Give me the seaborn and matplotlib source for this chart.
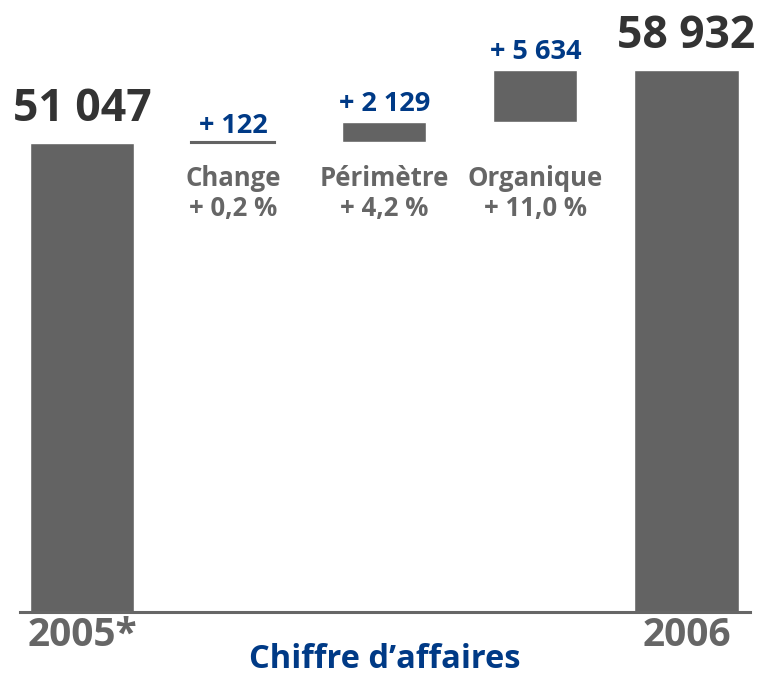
import pandas as pd
import matplotlib
matplotlib.use("Agg")
import matplotlib.pyplot as plt
import seaborn as sns

# donnees (millions d'euros)
etapes = ["2005*", "Change", "Périmètre", "Organique", "2006"]
ca_2005 = 51047
variations = [122, 2129, 5634]
ca_2006 = 58932
libelles_var = ["+ 122", "+ 2 129", "+ 5 634"]
libelles_pct = ["Change\n+ 0,2 %", "Périmètre\n+ 4,2 %", "Organique\n+ 11,0 %"]
libelles_tot = ["51 047", "58 932"]

GRIS_BARRE = "#636363"
GRIS_TEXTE = "#666666"
NOIR = "#333333"
BLEU = "#003a86"

# bases du waterfall
bases = [0]
cumul = ca_2005
for v in variations:
    bases.append(cumul)
    cumul += v
bases.append(0)
hauteurs = [ca_2005] + variations + [ca_2006]

df = pd.DataFrame({"etape": etapes, "hauteur": hauteurs, "base": bases})

sns.set_style("white")
plt.rcParams["font.family"] = ["Open Sans", "DejaVu Sans"]

fig = plt.figure(figsize=(7.62, 6.84), dpi=100)
ax = fig.add_axes([20 / 762, 72 / 684, 730 / 762, 612 / 684])

sns.barplot(data=df, x="etape", y="hauteur", order=etapes, bottom=df["base"].to_numpy(),
            width=0.69, color=GRIS_BARRE, saturation=1, ax=ax)

# barres intermediaires plus etroites
for i, p in enumerate(ax.patches):
    if 1 <= i <= 3:
        c = p.get_x() + p.get_width() / 2
        p.set_width(0.556)
        p.set_x(c - 0.278)
    if i == 1:
        p.set_edgecolor(GRIS_BARRE)
        p.set_linewidth(1.5)

ax.set_xlim(-0.41, 4.42)
ax.set_ylim(0, 66600)

# totaux
for i, txt in zip([0, 4], libelles_tot):
    ax.annotate(txt, (i, hauteurs[i]), xytext=(0, 16), textcoords="offset points",
                ha="center", va="baseline", fontsize=32, fontweight="bold", color=NOIR)

# variations
for k, txt in enumerate(libelles_var):
    i = k + 1
    ax.annotate(txt, (i, bases[i] + hauteurs[i]), xytext=(0, 6 if k == 0 else 8),
                textcoords="offset points", ha="center", va="baseline",
                fontsize=19.5, fontweight="bold", color=BLEU)
    ax.text(i, 48600, libelles_pct[k], ha="center", va="top", fontsize=18.5,
            fontweight="bold", color=GRIS_TEXTE, linespacing=1.1)

ax.set_yticks([])
ax.set_xticks([0, 4])
ax.set_xticklabels(["2005*", "2006"], fontsize=28, fontweight="bold", color=GRIS_TEXTE)
ax.tick_params(axis="x", length=0, pad=3)
ax.set_xlabel("Chiffre d’affaires", fontsize=23.5, fontweight="bold", color=BLEU, labelpad=-9)
ax.set_ylabel("")

sns.despine(ax=ax, left=True)
ax.spines["bottom"].set_color(GRIS_TEXTE)
ax.spines["bottom"].set_linewidth(2.2)

fig.savefig("out.png", dpi=100)
